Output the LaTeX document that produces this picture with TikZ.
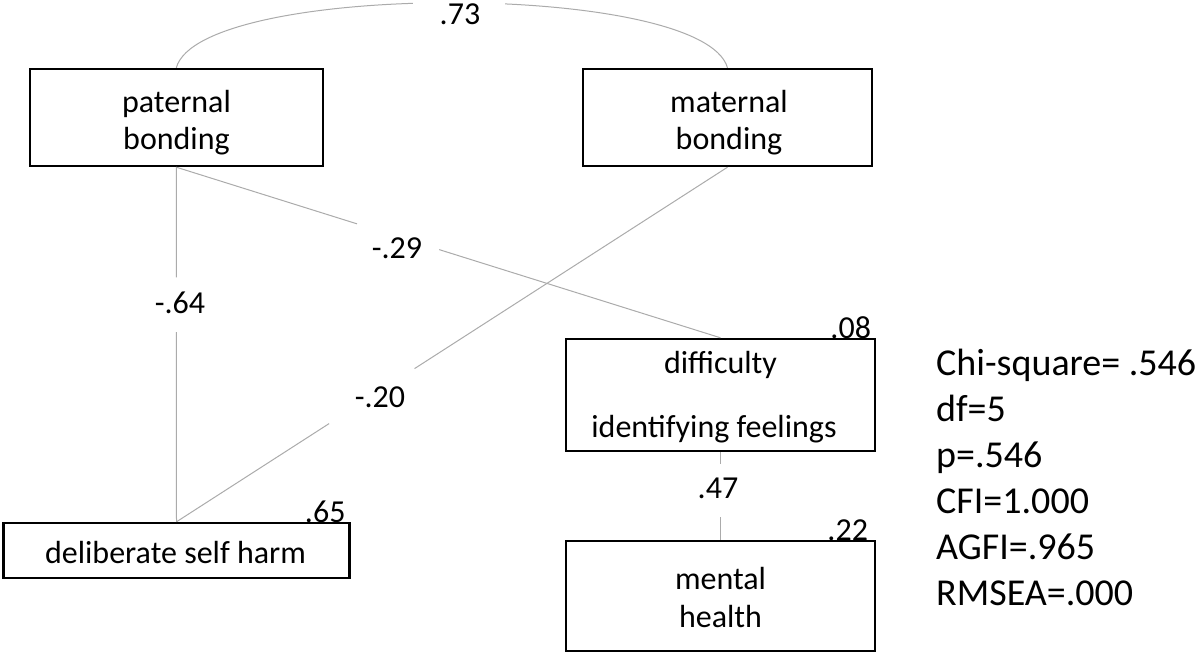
\documentclass[tikz,border=0pt]{standalone}
\usepackage{fontspec}
\setmainfont{Carlito}
\begin{document}
\begin{tikzpicture}[x=1pt,y=-1pt,
  box/.style={draw=black,line width=2.4pt,rectangle,inner sep=0pt},
  txt/.style={inner sep=0pt,anchor=base,align=center,font=\fontsize{32}{36.6}\selectfont},
  link/.style={draw=black!33,line width=1pt},
  coef/.style={inner sep=0pt,anchor=base,font=\fontsize{32}{37}\selectfont},
  resid/.style={inner sep=0pt,anchor=base east,font=\fontsize{32}{37}\selectfont},
  stats/.style={inner sep=0pt,anchor=north west,align=left,font=\fontsize{38}{46}\selectfont}]
\useasboundingbox (0,0) rectangle (1200,655);
% boxes
\node[box,minimum width=293pt,minimum height=97pt] (pat) at (176.3,117.5) {};
\node[box,minimum width=289pt,minimum height=97pt] (mat) at (727.5,117.5) {};
\node[box,minimum width=346pt,minimum height=55pt] (dsh) at (176.5,550.5) {};
\node[box,minimum width=309pt,minimum height=112pt] (dif) at (720.5,395) {};
\node[box,minimum width=309pt,minimum height=110pt] (men) at (720.5,596) {};
% box texts (base anchor = baseline of the last line)
\node[txt] (patt) at (176.5,149.3) {paternal\\bonding};
\node[txt] (matt) at (729,149.3) {maternal\\bonding};
\node[txt] (dsht) at (175.5,563) {deliberate self harm};
\node[txt] (dift) at (720.5,373) {difficulty};
\node[txt] (difb) at (714,437) {identifying feelings};
\node[txt,font=\fontsize{32}{38}\selectfont] (ment) at (720.5,627) {mental\\health};
% residuals
\node[resid] (r65) at ([xshift=-5pt,yshift=-1pt]dsh.north east) {.65};
\node[resid] (r08) at ([xshift=-5pt,yshift=-1pt]dif.north east) {.08};
\node[resid] (r22) at ([xshift=-8pt,yshift=-1pt]men.north east) {.22};
% connectors
\draw[link] (pat.north) .. controls (200,-19) and (703,-19) .. (mat.north);
\node[fill=white,inner sep=0pt,minimum width=92pt,minimum height=18pt] (g73) at (459,6) {};
\node[coef] (c73) at (460,25) {.73};
\path (pat.south) -- (dsh.north) coordinate[pos=0.311] (a64) coordinate[pos=0.465] (b64);
\draw[link] (pat.south) -- (a64) (b64) -- (dsh.north);
\node[coef] (c64) at (180,313) {-.64};
\path (pat.south) -- (dif.north) coordinate[pos=0.332] (a29) coordinate[pos=0.483] (b29);
\draw[link] (pat.south) -- (a29) (b29) -- (dif.north);
\node[coef] (c29) at (397,259) {-.29};
\path (mat.south) -- (dsh.north) coordinate[pos=0.568] (a20) coordinate[pos=0.723] (b20);
\draw[link] (mat.south) -- (a20) (b20) -- (dsh.north);
\node[coef] (c20) at (380,407) {-.20};
\path (dif.south) -- (men.north) coordinate[pos=0.133] (a47) coordinate[pos=0.744] (b47);
\draw[link] (dif.south) -- (a47) (b47) -- (men.north);
\node[coef] (c47) at (718,498) {.47};
% fit statistics
\node[stats] (fit) at (936,349) {Chi-square= .546\\df=5\\p=.546\\CFI=1.000\\AGFI=.965\\RMSEA=.000};
\end{tikzpicture}
\end{document}
